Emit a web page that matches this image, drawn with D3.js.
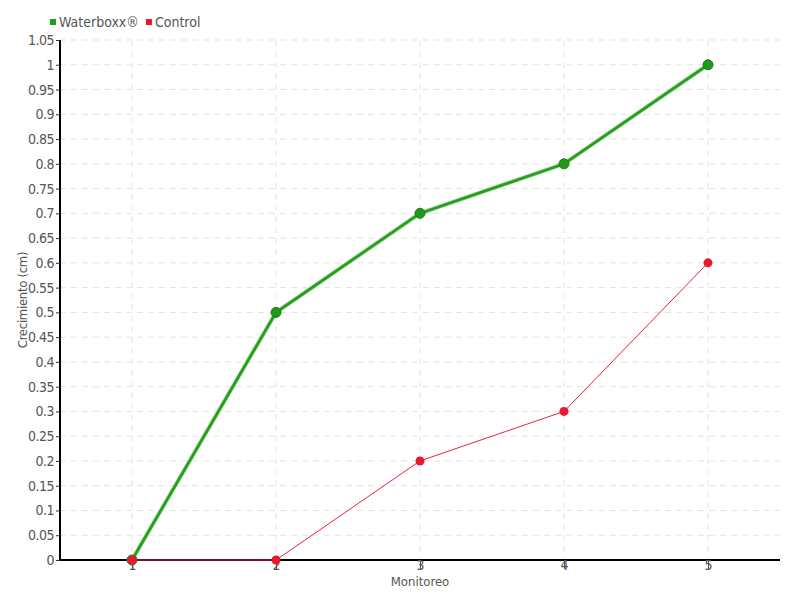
<!DOCTYPE html>
<html>
<head>
<meta charset="utf-8">
<script src="https://cdn.jsdelivr.net/npm/d3@7"></script>
<style>
  body { margin: 0; background: #fff; }
  svg text { font-family: "Liberation Sans Narrow", "DejaVu Sans Condensed", "Roboto", sans-serif; fill: #555; }
</style>
</head>
<body>
<div id="chart"></div>
<script>
// data
var monitoreo = [1, 2, 3, 4, 5];
var waterboxx = [0, 0.5, 0.7, 0.8, 1.0];
var control = [0, 0, 0.2, 0.3, 0.6];
var yTicks = d3.range(0, 22).map(function (i) { return +(i * 0.05).toFixed(2); });

var width = 800, height = 600;
var svg = d3.select("#chart").append("svg")
    .attr("width", width)
    .attr("height", height);

var x = d3.scaleLinear().domain([0.5, 5.5]).range([60, 780]);
var y = d3.scaleLinear().domain([0, 1.05]).range([560, 40]);

function fmt(v) {
    return String(+v.toFixed(2));
}

// grid
svg.append("g").selectAll("line")
    .data(yTicks.slice(1))
    .enter().append("line")
    .attr("x1", 60).attr("x2", 780)
    .attr("y1", function (d) { return y(d); })
    .attr("y2", function (d) { return y(d); })
    .style("stroke", "#e3e3e3")
    .style("stroke-dasharray", "6,5");

svg.append("g").selectAll("line")
    .data(monitoreo)
    .enter().append("line")
    .attr("x1", function (d) { return x(d); })
    .attr("x2", function (d) { return x(d); })
    .attr("y1", 40).attr("y2", 560)
    .style("stroke", "#e3e3e3")
    .style("stroke-dasharray", "6,5");

// axes
var yAxis = svg.append("g")
    .attr("transform", "translate(60,0)")
    .call(d3.axisLeft(y).tickValues(yTicks).tickFormat(fmt).tickSize(4).tickPadding(2));
yAxis.select(".domain").attr("d", "M0," + y(1.05) + "V" + y(0)).style("stroke", "#000").style("stroke-width", 2);
yAxis.selectAll(".tick line").style("stroke", "#333");
yAxis.selectAll(".tick text").style("font-size", "14px").style("letter-spacing", "-0.5px").style("fill", "#555");

var xAxis = svg.append("g")
    .attr("transform", "translate(0,560)")
    .call(d3.axisBottom(x).tickValues(monitoreo).tickFormat(d3.format("d")).tickSize(9).tickPadding(-9));
xAxis.select(".domain").attr("d", "M60,0H780").style("stroke", "#000").style("stroke-width", 2);
xAxis.selectAll(".tick line").style("stroke", "#555");
xAxis.selectAll(".tick text").style("font-size", "14px").style("fill", "#555");

// axis titles
svg.append("text")
    .attr("x", x(3)).attr("y", 586)
    .attr("text-anchor", "middle")
    .style("font-size", "13px")
    .text("Monitoreo");

svg.append("text")
    .attr("transform", "translate(27,300) rotate(-90)")
    .attr("text-anchor", "middle")
    .style("font-size", "13px")
    .style("letter-spacing", "-0.3px")
    .text("Crecimiento (cm)");

// lines
var line = d3.line()
    .x(function (d, i) { return x(monitoreo[i]); })
    .y(function (d) { return y(d); });

svg.append("path")
    .datum(waterboxx)
    .attr("d", line)
    .style("fill", "none")
    .style("stroke", "#8ccc86")
    .style("stroke-width", 4);
svg.append("path")
    .datum(waterboxx)
    .attr("d", line)
    .style("fill", "none")
    .style("stroke", "#22a01a")
    .style("stroke-width", 2.5);

svg.append("path")
    .datum(control)
    .attr("d", line)
    .style("fill", "none")
    .style("stroke", "#f0203a")
    .style("stroke-width", 1);

svg.append("g").selectAll("circle")
    .data(waterboxx)
    .enter().append("circle")
    .attr("cx", function (d, i) { return x(monitoreo[i]); })
    .attr("cy", function (d) { return y(d); })
    .attr("r", 5)
    .style("fill", "#1f9a18")
    .style("stroke", "#237a20")
    .style("stroke-width", 1);

svg.append("g").selectAll("circle")
    .data(control)
    .enter().append("circle")
    .attr("cx", function (d, i) { return x(monitoreo[i]); })
    .attr("cy", function (d) { return y(d); })
    .attr("r", 4.5)
    .style("fill", "#e8192c");

// legend
var series = [
    { name: "Waterboxx®", color: "#1fa01a" },
    { name: "Control", color: "#ee1133" }
];
var lx = 50;
series.forEach(function (s) {
    svg.append("rect")
        .attr("x", lx).attr("y", 19)
        .attr("width", 6).attr("height", 6)
        .style("fill", s.color);
    var t = svg.append("text")
        .attr("x", lx + 9).attr("y", 27)
        .style("font-size", "14px")
        .text(s.name);
    lx += 9 + t.node().getComputedTextLength() + 7;
});
</script>
</body>
</html>
